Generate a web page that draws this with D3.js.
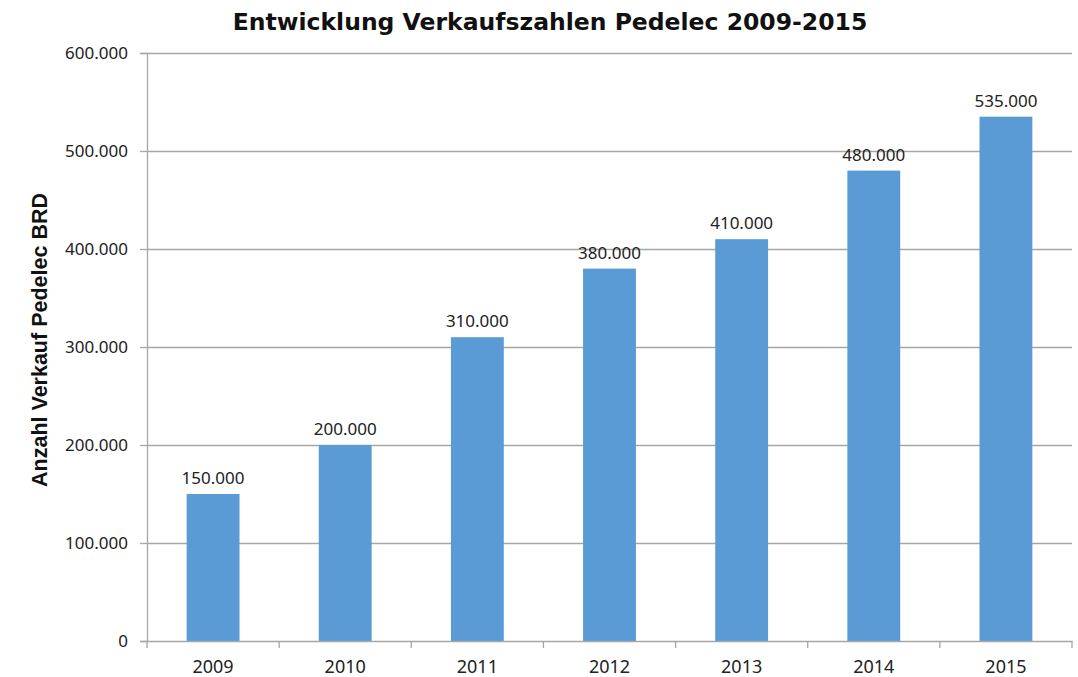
<!DOCTYPE html>
<meta charset="utf-8">
<style>
  body { margin: 0; background: #fff; }
</style>
<body>
  <svg id="chart" width="1078" height="677"></svg>

  <script src="https://cdnjs.cloudflare.com/ajax/libs/d3/7.8.5/d3.min.js"></script>
  <script>

    // chart data
    var years = ['2009', '2010', '2011', '2012', '2013', '2014', '2015']
    var sales = [150000, 200000, 310000, 380000, 410000, 480000, 535000]
    var yTicks = [0, 100000, 200000, 300000, 400000, 500000, 600000]

    var margin = { top: 53, right: 6, bottom: 36, left: 147 }
    var width = 1078, height = 677

    var svg = d3.select('#chart')

    // german number format: 150.000
    var fmt = d3.formatLocale({ decimal: ',', thousands: '.', grouping: [3], currency: ['', ' €'] }).format(',d')

    var x = d3.scaleBand()
      .domain(years)
      .range([margin.left, width - margin.right])
      .padding(0)

    var y = d3.scaleLinear()
      .domain([0, 600000])
      .range([height - margin.bottom, margin.top])

    // gridlines
    svg.append('g')
      .selectAll('line')
      .data(yTicks.slice(1))
      .join('line')
      .attr('x1', margin.left)
      .attr('x2', width - margin.right)
      .attr('y1', d => Math.round(y(d)) + 0.5)
      .attr('y2', d => Math.round(y(d)) + 0.5)
      .attr('stroke', '#a6a6a6')
      .attr('stroke-width', 1.3)

    // bars
    var barW = x.bandwidth() * 0.4
    svg.append('g')
      .selectAll('rect')
      .data(sales)
      .join('rect')
      .attr('x', (d, i) => x(years[i]) + (x.bandwidth() - barW) / 2)
      .attr('y', d => y(d))
      .attr('width', barW)
      .attr('height', d => y(0) - y(d))
      .attr('fill', '#5b9bd5')

    var labelFont = 'Noto Sans, Tahoma, sans-serif'

    // y axis
    var yAxis = svg.append('g')
      .attr('transform', 'translate(' + margin.left + ',0)')
      .call(d3.axisLeft(y).tickValues(yTicks).tickFormat(fmt).tickSize(7).tickPadding(12))
    yAxis.select('.domain').attr('stroke', '#a6a6a6').attr('stroke-width', 1.3)
    yAxis.selectAll('.tick line').attr('stroke', '#a6a6a6').attr('stroke-width', 1.3)
    yAxis.selectAll('text')
      .attr('fill', '#222')
      .style('font-family', labelFont)
      .style('font-size', '17px')

    // x axis, ticks sit at the band borders
    var xAxis = svg.append('g')
      .attr('transform', 'translate(0,' + y(0) + ')')
      .call(d3.axisBottom(x).tickSize(0).tickPadding(19))
    xAxis.select('.domain').attr('stroke', '#a6a6a6').attr('stroke-width', 1.3)
    xAxis.selectAll('text')
      .attr('fill', '#222')
      .style('font-family', labelFont)
      .style('font-size', '18px')

    svg.append('g')
      .selectAll('line')
      .data(years.concat(['end']))
      .join('line')
      .attr('x1', (d, i) => margin.left + i * x.step())
      .attr('x2', (d, i) => margin.left + i * x.step())
      .attr('y1', y(0))
      .attr('y2', y(0) + 7)
      .attr('stroke', '#a6a6a6')
      .attr('stroke-width', 1.3)

    // value labels
    svg.append('g')
      .selectAll('text')
      .data(sales)
      .join('text')
      .attr('x', (d, i) => x(years[i]) + x.bandwidth() / 2)
      .attr('y', d => y(d) - 10)
      .attr('text-anchor', 'middle')
      .attr('fill', '#222')
      .style('font-family', labelFont)
      .style('font-size', '17px')
      .text(d => fmt(d))

    // title
    svg.append('text')
      .attr('x', 550)
      .attr('y', 30)
      .attr('text-anchor', 'middle')
      .attr('fill', '#111')
      .style('font-family', 'DejaVu Sans, Verdana, sans-serif')
      .style('font-weight', 'bold')
      .style('font-size', '23.5px')
      .text('Entwicklung Verkaufszahlen Pedelec 2009-2015')

    // y axis title
    svg.append('text')
      .attr('transform', 'translate(47,340) rotate(-90)')
      .attr('text-anchor', 'middle')
      .attr('fill', '#111')
      .style('font-family', 'Liberation Sans, Arial, sans-serif')
      .style('font-weight', 'bold')
      .style('font-size', '21.5px')
      .text('Anzahl Verkauf Pedelec BRD')

  </script>
</body>
